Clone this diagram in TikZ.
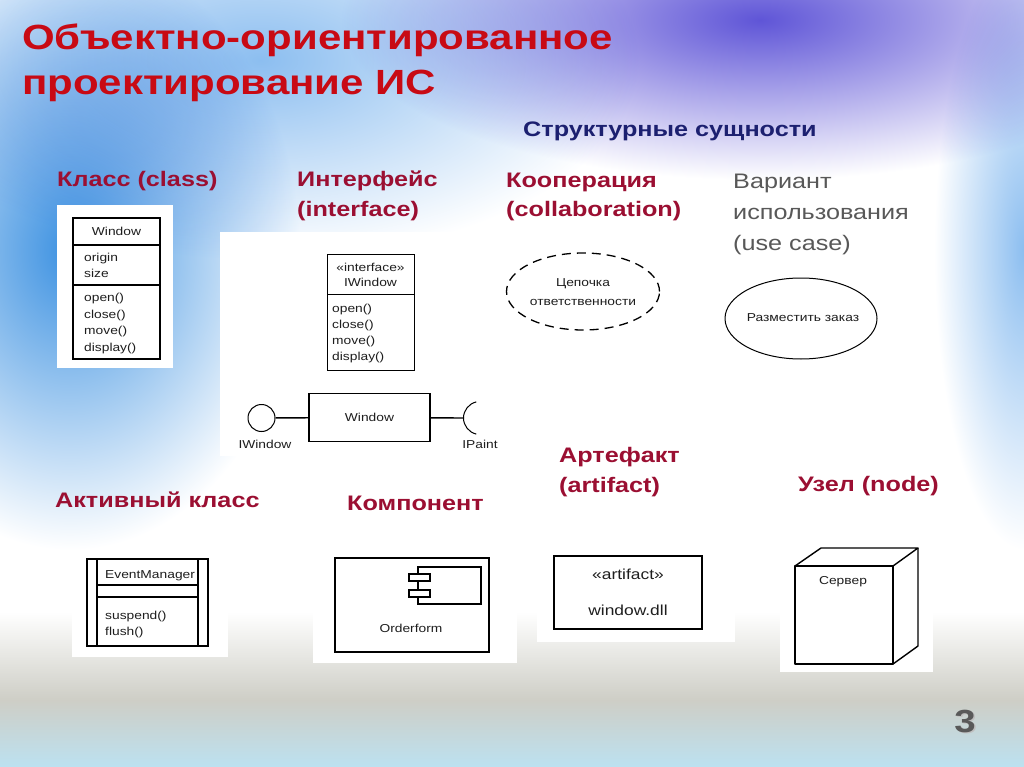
\documentclass[tikz,border=0pt]{standalone}
\usepackage{fontspec}
\setmainfont{Liberation Sans}[FakeStretch=1.2]
\usetikzlibrary{shapes.geometric,positioning}

\definecolor{titlered}{RGB}{200,10,20}
\definecolor{headred}{RGB}{155,15,50}
\definecolor{navy}{RGB}{28,32,112}
\definecolor{casegray}{RGB}{88,88,88}
\definecolor{umltext}{RGB}{30,30,30}
\definecolor{skyblue}{RGB}{60,145,225}
\definecolor{paleblue}{RGB}{140,190,240}
\definecolor{violet}{RGB}{95,85,215}
\definecolor{floorgray}{RGB}{206,206,198}
\definecolor{floorblue}{RGB}{188,225,240}

\begin{document}
\begin{tikzpicture}[
  x=1pt, y=-1pt,
  head/.style={font=\fontsize{21}{31}\selectfont\bfseries,text=headred,anchor=base west,inner sep=0pt},
  umltxt/.style={font=\fontsize{11.5}{13}\selectfont,text=umltext,inner sep=0pt,anchor=base west},
  patch/.style={fill=white},
  thin line/.style={line width=1pt},
  mid line/.style={line width=1.4pt},
  bold line/.style={line width=2pt}
]
\useasboundingbox (0,0) rectangle (1024,767);

% backdrop
\fill[white] (0,0) rectangle (1024,767);
\begin{scope}[blend mode=multiply]
  \shade[inner color=skyblue,outer color=white] (70,250) ellipse (230 and 300);
  \shade[inner color=paleblue,outer color=white] (260,60) ellipse (380 and 200);
  \shade[inner color=violet,outer color=white] (760,20) ellipse (420 and 160);
  \shade[inner color=paleblue,outer color=white] (1024,250) ellipse (90 and 300);
\end{scope}
\shade[top color=white,bottom color=floorgray] (0,612) rectangle (1024,700);
\shade[top color=floorgray,bottom color=floorblue] (0,700) rectangle (1024,767);

% titles
\node[anchor=base west,inner sep=0pt,font=\fontsize{35}{45}\selectfont\bfseries,text=titlered] (title1) at (22,50) {Объектно-ориентированное};
\node[anchor=base west,inner sep=0pt,font=\fontsize{35}{45}\selectfont\bfseries,text=titlered] (title2) at (22,95) {проектирование ИС};
\node[head,text=navy] (section) at (523,137) {Структурные сущности};

% class
\node[head] (hclass) at (57,187) {Класс (class)};
\fill[patch] (57,205) rectangle (173,368);
\draw[mid line] (73,218) rectangle (160,359);
\draw[mid line] (73,245) -- (160,245);
\draw[mid line] (73,285) -- (160,285);
\node[umltxt,anchor=base] (clsname) at (116.5,236) {Window};
\node[umltxt] (clsattr1) at (84,261) {origin};
\node[umltxt] (clsattr2) at (84,277) {size};
\foreach \op [count=\i] in {open(),close(),move(),display()}
  \node[umltxt] (clsop\i) at (84,{285+16.5*\i}) {\op};

% interface
\node[head] (hintf) at (297,187) {Интерфейс};
\node[head] (hintf2) at (297,217) {(interface)};
\fill[patch] (220,232) rectangle (500,456);
\draw[thin line] (327,254) rectangle (414,370);
\draw[thin line] (327,294) -- (414,294);
\node[umltxt,anchor=base] (ifstereo) at (370.5,271) {«interface»};
\node[umltxt,anchor=base] (ifname) at (370.5,286) {IWindow};
\foreach \op [count=\i] in {open(),close(),move(),display()}
  \node[umltxt] (ifop\i) at (332,{296+16*\i}) {\op};
\node[draw,circle,thin line,minimum size=27,inner sep=0pt] (prov) at (261.5,418) {};
\node[draw,mid line,minimum width=121,minimum height=48,font=\fontsize{11.5}{13}\selectfont,text=umltext] (impl) at (369.5,417.5) {Window};
\coordinate (socket) at (463.5,418);
\draw[mid line] (prov) -- (impl);
\draw[mid line] (impl) -- (socket);
\draw[thin line] (socket) arc[start angle=180,end angle=103,radius=16.5];
\draw[thin line] (socket) arc[start angle=180,end angle=257,radius=16.5];
\node[umltxt,anchor=base] (provlbl) at (265,448) {IWindow};
\node[umltxt,anchor=base] (socklbl) at (480,448) {IPaint};

% collaboration
\node[head] (hcollab) at (506,188) {Кооперация};
\node[head] (hcollab2) at (506,217) {(collaboration)};
\node[draw,ellipse,line width=1.3pt,dash pattern=on 9pt off 6pt,minimum width=153,minimum height=77,inner sep=0pt] (collab) at (583,291.5) {};
\node[align=center,inner sep=0pt,font=\fontsize{11.5}{18.5}\selectfont,text=umltext] (collabtxt) at (583,292) {Цепочка\\ответственности};

% use case
\node[head,text=casegray,font=\fontsize{21}{31}\selectfont] (hcase) at (733,189) {Вариант};
\node[head,text=casegray,font=\fontsize{21}{31}\selectfont] (hcase2) at (733,220) {использования};
\node[head,text=casegray,font=\fontsize{21}{31}\selectfont] (hcase3) at (733,250) {(use case)};
\node[draw,ellipse,thin line,minimum width=152,minimum height=81,inner sep=0pt] (usecase) at (801,318.5) {};
\node[umltxt,anchor=base] (usecasetxt) at (803,321) {Разместить заказ};

% active class
\node[head] (hactive) at (55,507) {Активный класс};
\fill[patch] (72,552) rectangle (228,657);
\draw[bold line] (87,559) rectangle (208,646);
\draw[mid line] (97,559) -- (97,646);
\draw[mid line] (198,559) -- (198,646);
\draw[mid line] (97,585) -- (198,585);
\draw[mid line] (97,597) -- (198,597);
\node[umltxt] (actname) at (105,578) {EventManager};
\node[umltxt] (actop1) at (105,619) {suspend()};
\node[umltxt] (actop2) at (105,635) {flush()};

% component
\node[head] (hcomp) at (347,510) {Компонент};
\fill[patch] (313,548) rectangle (517,663);
\draw[mid line] (335,558) rectangle (489,652);
\draw[mid line] (418,567) rectangle (481,604);
\draw[mid line,fill=white] (409,574) rectangle (430,581);
\draw[mid line,fill=white] (409,590) rectangle (430,597);
\node[umltxt,anchor=base] (compname) at (411,632) {Orderform};

% artifact
\node[head] (hart) at (559,462) {Артефакт};
\node[head] (hart2) at (559,492) {(artifact)};
\fill[patch] (537,540) rectangle (735,642);
\draw[bold line] (554,556) rectangle (702,629);
\node[umltxt,anchor=base,font=\fontsize{14.5}{16}\selectfont] (artstereo) at (628,579) {«artifact»};
\node[umltxt,anchor=base,font=\fontsize{14.5}{16}\selectfont] (artname) at (628,615) {window.dll};

% node
\node[head] (hnode) at (798,491) {Узел (node)};
\fill[patch] (780,540) rectangle (933,672);
\draw[mid line,line join=round] (795,566) rectangle (893,664);
\draw[mid line,line join=round] (795,566) -- (821,548) -- (918,548) -- (893,566);
\draw[mid line,line join=round] (918,548) -- (918,646) -- (893,664);
\node[umltxt,anchor=base] (nodename) at (843,584) {Сервер};

% slide number
\node[anchor=base,inner sep=0pt,font=\fontsize{32}{32}\selectfont\bfseries,text=gray!50] at (966.5,733.5) {3};
\node[anchor=base,inner sep=0pt,font=\fontsize{32}{32}\selectfont\bfseries,text=black!65] (pagenum) at (965,732) {3};
\end{tikzpicture}
\end{document}
